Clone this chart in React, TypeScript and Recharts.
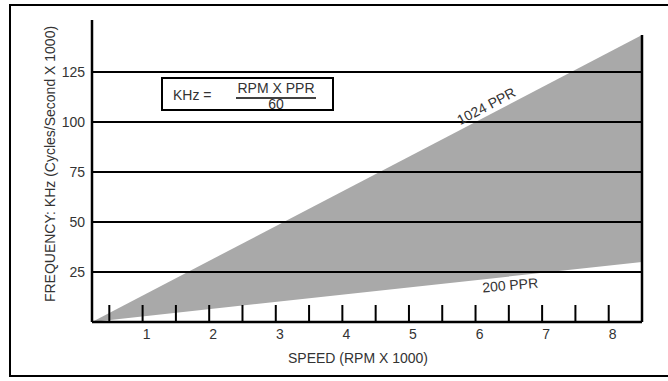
import React from 'react';
import { ComposedChart, Area, XAxis, YAxis, ReferenceLine, ReferenceDot, Label } from 'recharts';

// Speed in RPM x 1000 (start at the axis origin, end at right edge)
const speeds = [0.24, 8.5];
// 200 PPR line (lower bound of band), kHz
const lowPPR = [0, 30];
// 1024 PPR line (upper bound of band), kHz
const highPPR = [0, 143.5];

const xTicks = [0.5, 1, 1.5, 2, 2.5, 3, 3.5, 4, 4.5, 5, 5.5, 6, 6.5, 7, 7.5, 8];
const yTicks = [25, 50, 75, 100, 125];

const lineLabels = [
  { text: '1024 PPR', x: 6.16, y: 108, angle: -27.6 },
  { text: '200 PPR', x: 6.52, y: 18.5, angle: -5 },
];

const data = speeds.map((s, i) => ({ speed: s, band: [lowPPR[i], highPPR[i]] }));

const FONT = '"Liberation Sans", Arial, sans-serif';
const TXT = '#333';

const XTick = (props: any) => {
  const { x, y, payload } = props;
  const v = payload.value;
  const isInt = Math.abs(v - Math.round(v)) < 1e-6;
  return (
    <g>
      <line x1={x} x2={x} y1={y - 17} y2={y} stroke="#000" strokeWidth={2} />
      {isInt && (
        <text x={x + 4} y={y + 17} textAnchor="middle" fontSize={14} fill={TXT} fontFamily={FONT}>
          {String(v)}
        </text>
      )}
    </g>
  );
};

export default function App() {
  return (
    <div style={{ position: 'absolute', left: 0, top: 0, width: 668, height: 381, background: '#fff', overflow: 'hidden' }}>
      <div
        style={{
          position: 'absolute',
          left: 9,
          top: 4,
          width: 670,
          height: 373,
          borderTop: '2px solid #000',
          borderLeft: '2px solid #000',
          borderBottom: '2px solid #000',
          boxSizing: 'border-box',
        }}
      />
      <div style={{ position: 'absolute', left: 0, top: 0 }}>
        <ComposedChart
          width={668}
          height={381}
          data={data}
          margin={{ top: 20, right: 26, bottom: 29, left: 0 }}
          style={{ fontFamily: FONT }}
        >
          <XAxis
            dataKey="speed"
            type="number"
            domain={[0.24, 8.5]}
            allowDataOverflow
            ticks={xTicks}
            interval={0}
            tick={<XTick />}
            tickLine={false}
            tickSize={0}
            tickMargin={0}
            height={30}
            axisLine={{ stroke: '#000', strokeWidth: 2.5 }}
          >
            <Label
              value="SPEED (RPM X 1000)"
              position="bottom"
              offset={1}
              dx={-9}
              fontSize={14}
              fill={TXT}
              fontFamily={FONT}
            />
          </XAxis>
          <YAxis
            type="number"
            domain={[0, 151]}
            allowDataOverflow
            ticks={yTicks}
            interval={0}
            width={92}
            tickLine={false}
            tickSize={0}
            tickMargin={7}
            tick={{ fontSize: 14, fill: TXT, fontFamily: FONT }}
            axisLine={{ stroke: '#000', strokeWidth: 2.5 }}
          >
            <Label
              content={(p: any) => {
                const vb = p.viewBox || { x: 0, y: 20 };
                const cx = vb.x + 50;
                const cy = vb.y + 144;
                return (
                  <text
                    x={cx}
                    y={cy}
                    transform={`rotate(-90 ${cx} ${cy})`}
                    textAnchor="middle"
                    dominantBaseline="central"
                    fontSize={14}
                    fill={TXT}
                    fontFamily={FONT}
                  >
                    FREQUENCY: KHz (Cycles/Second X 1000)
                  </text>
                );
              }}
            />
          </YAxis>
          <Area
            dataKey="band"
            type="linear"
            fill="#a9a9a9"
            fillOpacity={1}
            stroke="none"
            isAnimationActive={false}
            dot={false}
            activeDot={false}
          />
          {yTicks.map((v) => (
            <ReferenceLine key={v} y={v} stroke="#000" strokeWidth={2} />
          ))}
          <ReferenceLine
            segment={[
              { x: speeds[1], y: 0 },
              { x: speeds[1], y: highPPR[1] },
            ]}
            stroke="#000"
            strokeWidth={2.5}
          />
          {lineLabels.map((l) => (
            <ReferenceDot
              key={l.text}
              x={l.x}
              y={l.y}
              r={0}
              shape={(p: any) => (
                <text
                  x={p.cx}
                  y={p.cy}
                  transform={`rotate(${l.angle} ${p.cx} ${p.cy})`}
                  textAnchor="middle"
                  dominantBaseline="central"
                  fontSize={14}
                  fill={TXT}
                  fontFamily={FONT}
                >
                  {l.text}
                </text>
              )}
            />
          ))}
        </ComposedChart>
      </div>
      <svg width={668} height={381} style={{ position: 'absolute', left: 0, top: 0, pointerEvents: 'none' }}>
        <rect x={162} y={78} width={171} height={32} fill="#fff" stroke="#000" strokeWidth={2} />
        <text x={173} y={100} fontSize={14} fill={TXT} fontFamily={FONT}>KHz =</text>
        <text x={276} y={93} textAnchor="middle" fontSize={14} fill={TXT} fontFamily={FONT}>RPM X PPR</text>
        <line x1={236} x2={316} y1={98} y2={98} stroke="#000" strokeWidth={1.5} />
        <text x={276} y={109} textAnchor="middle" fontSize={14} fill={TXT} fontFamily={FONT}>60</text>
      </svg>
    </div>
  );
}
